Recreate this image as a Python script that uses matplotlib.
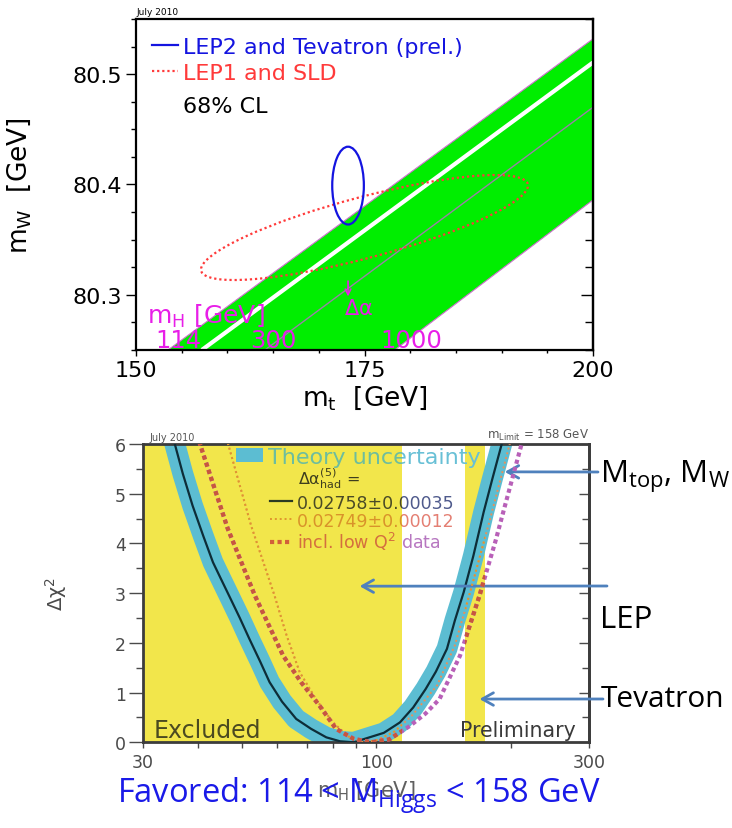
import matplotlib
matplotlib.use('Agg')
import matplotlib.pyplot as plt
from matplotlib.patches import Ellipse, Patch
from matplotlib.lines import Line2D
from matplotlib.legend import Legend
from matplotlib.path import Path
from matplotlib.transforms import Affine2D, Bbox, TransformedBbox
from matplotlib.ticker import MultipleLocator, FixedLocator, FixedFormatter, NullFormatter

plt.rcParams['font.family'] = ['DejaVu Sans']
plt.rcParams['mathtext.default'] = 'regular'

# ---------------- top panel: mW vs mt ----------------
band_mt = [153.5, 200.0, 200.0, 178.3]       # SM band (mH 114 .. 1000)
band_mw = [80.25, 80.532, 80.386, 80.25]
white_mt = [157.2, 200.0]
white_mw = [80.25, 80.5106]
mh300_mt = [164.1, 200.0]
mh300_mw = [80.25, 80.47]

lep2_center = (173.2, 80.399)     # LEP2 and Tevatron, 68% CL
lep2_width = 3.46
lep2_height = 0.0705
lep1_center = (175.0, 80.361)     # LEP1 and SLD, 68% CL
lep1_width = 36.6
lep1_height = 0.0558
lep1_angle = 12.3                 # degrees in (GeV, 10 MeV) units

mh_names = ['114', '300', '1000']
mh_name_mt = [154.6, 165.0, 180.1]

# ---------------- bottom panel: blueband ----------------
mh_fit = [34.2, 35.4, 36.9, 38.8, 41.0, 43.1, 45.0, 47.0, 49.5, 52.0, 55.0, 57.7,
          61.5, 66.2, 71.5, 77.3, 83.0, 89.0, 96.6, 104, 113, 121, 129, 136, 144,
          150, 157, 165, 174, 182, 191, 196]
chi2_fit = [6.5, 6.0, 5.4, 4.76, 4.15, 3.62, 3.27, 2.92, 2.5, 2.08, 1.62, 1.21,
            0.82, 0.47, 0.27, 0.10, 0.02, 0.0, 0.10, 0.19, 0.40, 0.70, 1.07, 1.42, 1.88,
            2.45, 3.02, 3.75, 4.63, 5.3, 6.0, 6.4]
mh_alt = [45.5, 46.6, 52.5, 59.2, 63.0, 67.4, 73.5, 80.0, 86.5, 93.4, 101, 110,
          120, 128, 137, 150, 163, 180, 199, 204]
chi2_alt = [6.5, 6.0, 4.35, 2.95, 2.15, 1.41, 0.85, 0.40, 0.12, 0.0, 0.05, 0.22,
            0.53, 0.83, 1.15, 1.95, 3.08, 4.5, 6.0, 6.5]
mh_lowq2 = [39.3, 40.3, 46.5, 53.5, 61.9, 68.0, 74.6, 81.3, 89.0, 97.6, 107, 119,
            129, 138.6, 154, 170.3, 185, 192.5, 211.6, 216]
chi2_lowq2 = [6.5, 6.0, 4.3, 2.95, 1.74, 1.2, 0.74, 0.27, 0.07, 0.0, 0.06, 0.33,
              0.58, 0.87, 1.74, 2.95, 4.05, 4.63, 6.0, 6.5]
excluded = [(30, 114), (158, 175)]    # LEP, Tevatron (prel.)

YELLOW = '#f2e64b'
CYAN = '#5cbdd2'
MAG = '#e81ee8'
ARROW = '#4f81bd'
SLIDE_FONT = 'Open Sans'

fig = plt.figure(figsize=(7.32, 8.29), dpi=100)
ax1 = fig.add_axes([136 / 732, 1 - 351 / 829, 457 / 732, 331 / 829])
ax2 = fig.add_axes([142.7 / 732, 1 - 743.3 / 829, 446.6 / 732, 298.3 / 829])

# ---- top ----
ax1.fill(band_mt, band_mw, color='#00ee00', ec='#d070d0', lw=0.8, zorder=1)
ax1.plot(white_mt, white_mw, color='white', lw=3, solid_capstyle='butt', zorder=2)
ax1.plot(mh300_mt, mh300_mw, color='#9a80a8', lw=1, zorder=2)
ax1.add_patch(Ellipse(lep2_center, lep2_width, lep2_height, fill=False,
                      ec='#1414e0', lw=1.6, zorder=4))
scaled = Affine2D().scale(1, 0.01) + ax1.transData
ax1.add_patch(Ellipse((lep1_center[0], lep1_center[1] * 100), lep1_width,
                      lep1_height * 100, angle=lep1_angle, fill=False, ec='#ff3a3a',
                      lw=1.6, ls=(0, (1, 1.3)), transform=scaled, zorder=3))

ax1.set_xlim(150, 200)
ax1.set_ylim(80.25, 80.55)
ax1.xaxis.set_major_locator(MultipleLocator(25))
ax1.xaxis.set_minor_locator(MultipleLocator(5))
ax1.yaxis.set_major_locator(MultipleLocator(0.1))
ax1.yaxis.set_minor_locator(MultipleLocator(0.025))
ax1.tick_params(axis='y', which='major', direction='out', length=7, width=1, labelsize=16, pad=3)
ax1.tick_params(axis='y', which='minor', direction='out', length=3.5, width=1)
ax1.tick_params(axis='x', which='major', direction='out', length=4, width=1, labelsize=16, pad=3)
ax1.tick_params(axis='x', which='minor', direction='out', length=2, width=1)
for s in ax1.spines.values():
    s.set_linewidth(1.6)
sec1 = ax1.secondary_yaxis('right')
sec1.yaxis.set_major_locator(MultipleLocator(0.1))
sec1.yaxis.set_minor_locator(MultipleLocator(0.025))
sec1.tick_params(which='major', direction='in', length=9, width=1, labelright=False)
sec1.tick_params(which='minor', direction='in', length=6, width=1)
sec1.spines['right'].set_linewidth(1.6)

ax1.set_xlabel('m$_t$  [GeV]', fontsize=19)
ax1.xaxis.set_label_coords(0.5, -0.1)
ax1.set_ylabel('m$_W$  [GeV]', fontsize=19)
ax1.yaxis.set_label_coords(-0.225, 0.5)
ax1.text(0.0, 1.008, 'July 2010', transform=ax1.transAxes, fontsize=6.5, va='bottom')

h_lep2 = Line2D([], [], color='#1414e0', lw=1.6)
h_lep1 = Line2D([], [], color='#ff3a3a', lw=1.6, ls=(0, (1, 1.3)))
ax1.legend([h_lep2, h_lep1], ['LEP2 and Tevatron (prel.)', 'LEP1 and SLD'],
           loc='upper left', bbox_to_anchor=(0.035, 0.946), frameon=False, fontsize=16,
           handlelength=1.17, handletextpad=0.22, labelspacing=0.27, borderpad=0,
           borderaxespad=0, labelcolor='linecolor')
ax1.text(0.103, 0.737, '68% CL', transform=ax1.transAxes, fontsize=16, va='center')

ax1.text(151.2, 80.281, 'm$_H$ [GeV]', color=MAG, fontsize=18, va='center')
for name, mt in zip(mh_names, mh_name_mt):
    ax1.text(mt, 80.259, name, color=MAG, fontsize=17.5, ha='center', va='center')
ax1.annotate('', xy=(173.2, 80.2985), xytext=(173.2, 80.3125),
             arrowprops=dict(arrowstyle='->', color=MAG, lw=1.2, shrinkA=0, shrinkB=0))
ax1.text(174.3, 80.288, r'$\Delta\alpha$', color=MAG, fontsize=15, ha='center', va='center')

# ---- bottom ----
for lo, hi in excluded:
    ax2.axvspan(lo, hi, color=YELLOW, lw=0, zorder=0)
ax2.plot(mh_fit, chi2_fit, color=CYAN, lw=15, solid_capstyle='butt',
         solid_joinstyle='round', zorder=2)
ax2.plot(mh_fit, chi2_fit, color='#0d2d38', lw=1.6, zorder=3)

yellow_clip = Path.make_compound_path(
    *[Path([(lo, 0), (hi, 0), (hi, 6), (lo, 6), (lo, 0)], closed=True) for lo, hi in excluded])
curves = [
    (mh_alt, chi2_alt, '#e8905a', '#e0962e', dict(lw=1.4, ls=(0, (1, 1.5)), zorder=4)),
    (mh_lowq2, chi2_lowq2, '#b860b8', '#c8573c',
     dict(lw=3.0, ls=(0, (1, 0.8)), dash_capstyle='butt', zorder=5)),
]
for mh, chi, c_white, c_yellow, style in curves:
    ax2.plot(mh, chi, color=c_white, **style)
    ln, = ax2.plot(mh, chi, color=c_yellow, **style)
    ln.set_clip_path(yellow_clip, ax2.transData)

ax2.set_xscale('log')
ax2.set_xlim(30, 300)
ax2.set_ylim(0, 6)
ax2.xaxis.set_major_locator(FixedLocator([30, 100, 300]))
ax2.xaxis.set_major_formatter(FixedFormatter(['30', '100', '300']))
ax2.xaxis.set_minor_locator(FixedLocator([40, 50, 60, 70, 80, 90, 200]))
ax2.xaxis.set_minor_formatter(NullFormatter())
ax2.yaxis.set_major_locator(MultipleLocator(1))
ax2.yaxis.set_minor_locator(MultipleLocator(0.5))
GRAY = '#4a4a4a'
ax2.tick_params(axis='y', which='major', direction='out', length=10, width=1,
                color=GRAY, labelcolor=GRAY, labelsize=12.5, pad=2)
ax2.tick_params(axis='y', which='minor', direction='out', length=5, width=1, color=GRAY)
ax2.tick_params(axis='x', which='major', direction='out', length=4, width=1,
                color=GRAY, labelcolor=GRAY, labelsize=12.5, pad=4)
ax2.tick_params(axis='x', which='minor', direction='out', length=4, width=1, color=GRAY)
for s in ax2.spines.values():
    s.set_linewidth(2)
    s.set_color('#3c3c3c')
sec2 = ax2.secondary_yaxis('right')
sec2.yaxis.set_major_locator(MultipleLocator(1))
sec2.yaxis.set_minor_locator(MultipleLocator(0.5))
sec2.tick_params(which='major', direction='in', length=7, width=1, color=GRAY, labelright=False)
sec2.tick_params(which='minor', direction='in', length=5, width=1, color=GRAY)
sec2.spines['right'].set_linewidth(2)
sec2.spines['right'].set_color('#3c3c3c')

ax2.set_xlabel('m$_H$ [GeV]', fontsize=15, color='#606060')
ax2.xaxis.set_label_coords(0.5, -0.122)
ax2.set_ylabel(r'$\Delta\chi^2$', fontsize=14, color=GRAY)
ax2.yaxis.set_label_coords(-0.165, 0.5)

ax2.text(0.015, 1.006, 'July 2010', transform=ax2.transAxes, fontsize=7, color='#555555', va='bottom')
ax2.text(1.0, 1.006, 'm$_{Limit}$ = 158 GeV', transform=ax2.transAxes, fontsize=8.5,
         color='#555555', ha='right', va='bottom')
ax2.text(0.024, 0.017, 'Excluded', transform=ax2.transAxes, fontsize=17,
         color='#4b4a20', va='baseline')
ax2.text(0.71, 0.02, 'Preliminary', transform=ax2.transAxes, fontsize=14.8,
         color='#3a3a3a', va='baseline')
ax2.text(0.348, 0.866, r'$\Delta\alpha^{(5)}_{had}$ =', transform=ax2.transAxes,
         fontsize=11.5, color='#3e3e1e', va='baseline')

# legends, drawn twice: colours as seen over the yellow and over the white region
yellow_box = TransformedBbox(Bbox([[30, 0], [114, 6]]), ax2.transData)
white_box = TransformedBbox(Bbox([[114, 0], [300, 6]]), ax2.transData)
theory_colors = {'yellow': ['#6dbd9e'], 'white': ['#68c0d6']}
alpha_colors = {'yellow': ['#4a4a26', '#d9932a', '#d46f3e'],
                'white': ['#4f5a8c', '#e47f73', '#b777c0']}
alpha_labels = ['0.02758\u00b10.00035', '0.02749\u00b10.00012', 'incl. low Q$^2$ data']
for region, box in [('yellow', yellow_box), ('white', white_box)]:
    leg_a = Legend(ax2, [Patch(facecolor=CYAN, lw=0)], ['Theory uncertainty'],
                   loc='upper left', bbox_to_anchor=(0.209, 0.99), frameon=False,
                   fontsize=16, handlelength=1.2, handleheight=0.55,
                   handletextpad=0.22, borderpad=0, borderaxespad=0,
                   labelcolor=theory_colors[region])
    handles = [Line2D([], [], color='#2b3a22', lw=1.6),
               Line2D([], [], color='#e0962e', lw=1.4, ls=(0, (1, 1.5))),
               Line2D([], [], color='#d2603a', lw=3.0, ls=(0, (1, 0.8)))]
    leg_b = Legend(ax2, handles, alpha_labels, loc='upper left',
                   bbox_to_anchor=(0.285, 0.834), frameon=False, fontsize=12.5,
                   handlelength=1.26, handletextpad=0.3, labelspacing=0.0,
                   borderpad=0, borderaxespad=0, labelcolor=alpha_colors[region])
    for leg in (leg_a, leg_b):
        for t in leg.get_texts():
            t.set_clip_box(box)
            t.set_clip_on(True)
        if region == 'white':
            for h in leg.legend_handles:
                h.set_visible(False)
        ax2.add_artist(leg)

# slide annotations
arrow_tips = [(194.0, 5.44), (91.8, 3.14), (170.3, 0.87)]
arrow_tails = [(598, 473), (607, 587), (603, 700)]
for (mh, chi), (tx, ty) in zip(arrow_tips, arrow_tails):
    ax2.annotate('', xy=(mh, chi), xytext=(tx / 732, 1 - ty / 829),
                 textcoords='figure fraction', annotation_clip=False,
                 arrowprops=dict(arrowstyle='->,head_length=0.8,head_width=0.45',
                                 mutation_scale=10, color=ARROW, lw=2,
                                 shrinkA=0, shrinkB=0))

fig.text(600 / 732, 1 - 483 / 829, 'M$_{top}$, M$_W$', fontsize=22.5, family=SLIDE_FONT, va='baseline')
fig.text(600 / 732, 1 - 628 / 829, 'LEP', fontsize=22.5, family=SLIDE_FONT, va='baseline')
fig.text(601 / 732, 1 - 707 / 829, 'Tevatron', fontsize=21.5, family=SLIDE_FONT, va='baseline')
fig.text(117 / 732, 1 - 803 / 829, 'Favored: 114 < M$_{Higgs}$ < 158 GeV', fontsize=23.5,
         family=SLIDE_FONT, color='#1a1ae8', va='baseline')

fig.savefig('out.png', dpi=100)
